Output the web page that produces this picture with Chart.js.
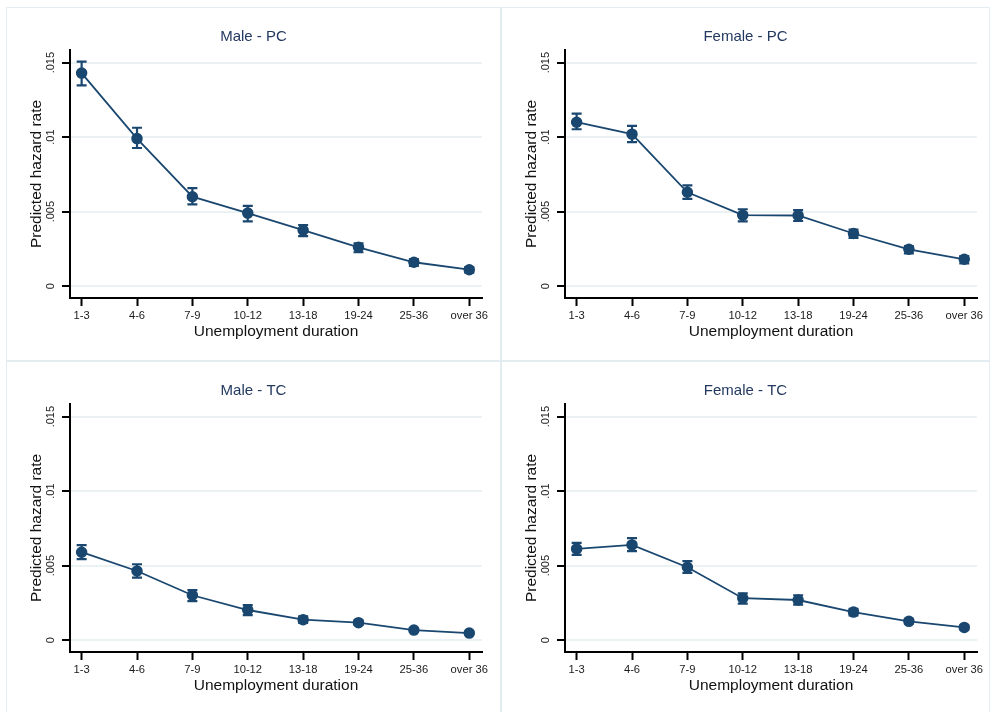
<!DOCTYPE html>
<html>
<head>
<meta charset="utf-8">
<script src="https://cdn.jsdelivr.net/npm/chart.js@4.4.0/dist/chart.umd.min.js"></script>
<style>
  html, body { margin: 0; padding: 0; background: #fff; overflow: hidden; }
  body { width: 990px; height: 712px; position: relative; }
  .panel { position: absolute; box-shadow: inset 0 0 0 1px #e3edf1; }
  .panel canvas { position: absolute; left: 0; top: 0; }
</style>
</head>
<body>
<div class="panel" id="p0"><canvas id="c0"></canvas></div>
<div class="panel" id="p1"><canvas id="c1"></canvas></div>
<div class="panel" id="p2"><canvas id="c2"></canvas></div>
<div class="panel" id="p3"><canvas id="c3"></canvas></div>
<script>
// Categories (unemployment duration, months)
const categories = ["1-3", "4-6", "7-9", "10-12", "13-18", "19-24", "25-36", "over 36"];

// y axis ticks
const yTickValues = [0, 0.005, 0.01, 0.015];
const yTickLabels = ["0", ".005", ".01", ".015"];

// Male - PC
const malePC     = [0.0143, 0.0099, 0.0060, 0.0049, 0.00375, 0.0026, 0.0016, 0.0011];
const malePCLow  = [0.01347, 0.00927, 0.00548, 0.00435, 0.00336, 0.00227, 0.00135, 0.0009];
const malePCHigh = [0.01507, 0.01063, 0.00657, 0.00538, 0.0041, 0.00287, 0.00182, 0.00128];

// Female - PC
const femalePC     = [0.0110, 0.0102, 0.0063, 0.00476, 0.00474, 0.00353, 0.00247, 0.0018];
const femalePCLow  = [0.01053, 0.00967, 0.00586, 0.00435, 0.00437, 0.00323, 0.0022, 0.00153];
const femalePCHigh = [0.01158, 0.01075, 0.00676, 0.00516, 0.0051, 0.0038, 0.00269, 0.00202];

// Male - TC
const maleTC     = [0.0059, 0.00464, 0.00301, 0.00202, 0.00137, 0.00117, 0.00067, 0.00047];
const maleTCLow  = [0.00543, 0.0042, 0.00262, 0.00168, 0.00115, 0.00102, 0.00057, 0.00039];
const maleTCHigh = [0.00637, 0.00509, 0.00336, 0.00235, 0.0016, 0.00132, 0.00077, 0.00055];

// Female - TC
const femaleTC     = [0.00612, 0.00639, 0.00489, 0.00281, 0.00269, 0.00188, 0.00126, 0.00085];
const femaleTCLow  = [0.00572, 0.00597, 0.00451, 0.00245, 0.00238, 0.00166, 0.0011, 0.00073];
const femaleTCHigh = [0.00653, 0.00684, 0.0053, 0.00314, 0.00301, 0.0021, 0.00143, 0.00097];

const panels = [
    { title: "Male - PC",   est: malePC,   lo: malePCLow,   hi: malePCHigh },
    { title: "Female - PC", est: femalePC, lo: femalePCLow, hi: femalePCHigh },
    { title: "Male - TC",   est: maleTC,   lo: maleTCLow,   hi: maleTCHigh },
    { title: "Female - TC", est: femaleTC, lo: femaleTCLow, hi: femaleTCHigh }
];

const NAVY = '#1a476f';
const FONT = "'Liberation Sans', Arial, sans-serif";
const colWidths = [495, 489];
const panelH = 354;
const areaRight = 476;

// draws the confidence interval whiskers
const errorBars = {
    id: 'errorBars',
    beforeDatasetsDraw(chart) {
        const ds = chart.data.datasets[0];
        const x = chart.scales.x, y = chart.scales.y;
        const ctx = chart.ctx;
        ctx.save();
        ctx.strokeStyle = NAVY;
        ctx.lineWidth = 2.2;
        ds.lo.forEach(function (lo, i) {
            const px = x.getPixelForValue(i);
            const y1 = y.getPixelForValue(lo);
            const y2 = y.getPixelForValue(ds.hi[i]);
            ctx.beginPath();
            ctx.moveTo(px, y1); ctx.lineTo(px, y2);
            ctx.moveTo(px - 5, y1); ctx.lineTo(px + 5, y1);
            ctx.moveTo(px - 5, y2); ctx.lineTo(px + 5, y2);
            ctx.stroke();
        });
        ctx.restore();
    }
};

function makeChart(idx) {
    const p = panels[idx];
    const col = idx % 2, row = Math.floor(idx / 2);
    const W = colWidths[col];
    const div = document.getElementById('p' + idx);
    div.style.left = (6 + col * 495) + 'px';
    div.style.top = (7 + row * panelH) + 'px';
    div.style.width = W + 'px';
    div.style.height = panelH + 'px';
    const canvas = document.getElementById('c' + idx);
    canvas.width = W;
    canvas.height = panelH;

    new Chart(canvas.getContext('2d'), {
        type: 'line',
        data: {
            datasets: [{
                data: p.est.map((v, i) => ({ x: i, y: v })),
                lo: p.lo,
                hi: p.hi,
                borderColor: NAVY,
                backgroundColor: NAVY,
                borderWidth: 1.8,
                pointRadius: 5,
                pointBorderWidth: 1.5,
                pointBackgroundColor: NAVY,
                pointBorderColor: NAVY,
                tension: 0
            }]
        },
        plugins: [errorBars],
        options: {
            responsive: false,
            animation: false,
            devicePixelRatio: 1,
            layout: { padding: 0 },
            plugins: {
                legend: { display: false },
                tooltip: { enabled: false },
                title: {
                    display: true,
                    text: p.title,
                    color: '#23395f',
                    font: { family: FONT, size: 15, weight: 'normal' },
                    padding: { top: 20.7, bottom: 4.3 }
                }
            },
            scales: {
                x: {
                    type: 'linear',
                    min: -0.21,
                    max: 7.23,
                    afterBuildTicks: s => { s.ticks = categories.map((c, i) => ({ value: i })); },
                    afterFit: s => { s.height = panelH - 291; },
                    ticks: {
                        callback: v => categories[v],
                        color: '#1a1a1a',
                        font: { family: FONT, size: 11.2 },
                        padding: 3,
                        maxRotation: 0,
                        autoSkip: false
                    },
                    grid: {
                        drawOnChartArea: false,
                        drawTicks: true,
                        tickLength: 8,
                        tickColor: '#000',
                        tickWidth: 2
                    },
                    border: { color: '#000', width: 2 },
                    title: {
                        display: true,
                        text: 'Unemployment duration',
                        color: '#111',
                        font: { family: FONT, size: 15.5 },
                        padding: { top: 0, bottom: 20 }
                    }
                },
                y: {
                    type: 'linear',
                    position: 'left',
                    min: -0.0008,
                    max: 0.01585,
                    afterBuildTicks: s => { s.ticks = yTickValues.map(v => ({ value: v })); },
                    afterFit: s => { s.width = 64; },
                    ticks: {
                        callback: (v, i) => yTickLabels[i],
                        color: '#1a1a1a',
                        font: { family: FONT, size: 11 },
                        minRotation: 90,
                        maxRotation: 90,
                        crossAlign: 'center',
                        padding: 0
                    },
                    grid: {
                        color: '#eaf2f3',
                        lineWidth: 2,
                        drawTicks: true,
                        tickLength: 8,
                        tickColor: '#000',
                        tickWidth: 2
                    },
                    border: { color: '#000', width: 2 },
                    title: {
                        display: true,
                        text: 'Predicted hazard rate',
                        color: '#111',
                        font: { family: FONT, size: 15.5 },
                        padding: { top: 21, bottom: 0 }
                    }
                },
                // empty right-hand box that reserves the margin right of the plot
                yr: {
                    type: 'linear',
                    position: 'right',
                    display: true,
                    afterFit: s => { s.width = W - areaRight; },
                    ticks: { display: false },
                    grid: { display: false, drawTicks: false },
                    border: { display: false }
                }
            }
        }
    });
}

for (let i = 0; i < panels.length; i++) {
    makeChart(i);
}
</script>
</body>
</html>
